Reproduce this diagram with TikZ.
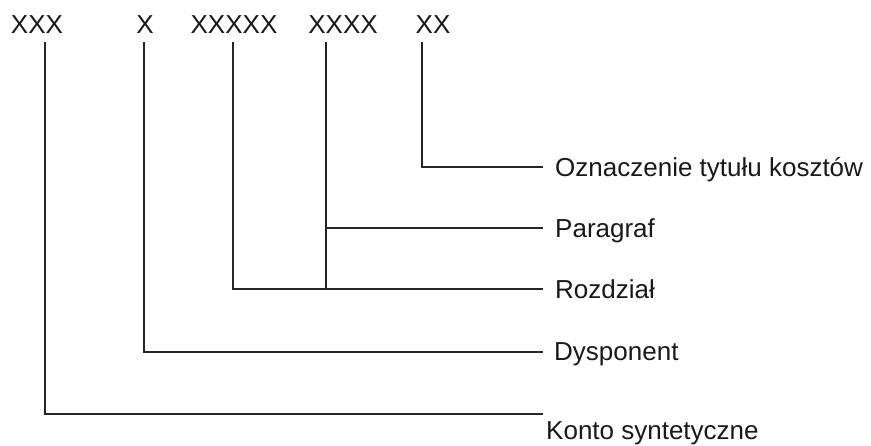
\documentclass[tikz,border=0pt]{standalone}
\usepackage{fontspec}
\setmainfont{Liberation Sans}
\begin{document}
\begin{tikzpicture}[x=1pt,y=1pt,
  lbl/.style={inner sep=0pt,font=\fontsize{26}{30}\selectfont,text=black!90},
  conn/.style={line width=1.4pt,draw=black!85}]
\useasboundingbox (0,0) rectangle (871,-446);
% top codes
\node[lbl] (a1) at (37,-25) {XXX};
\node[lbl] (a2) at (145,-25) {X};
\node[lbl] (a3) at (234,-25) {XXXXX};
\node[lbl] (a4) at (343,-25) {XXXX};
\node[lbl] (a5) at (433,-25) {XX};
% right labels
\node[lbl,anchor=base west] (b5) at (555,-177) {Oznaczenie tytułu kosztów};
\node[lbl,anchor=base west] (b4) at (555,-238) {Paragraf};
\node[lbl,anchor=base west] (b3) at (555,-299) {Rozdział};
\node[lbl,anchor=base west] (b2) at (554,-361) {Dysponent};
\node[lbl,anchor=base west] (b1) at (546,-440) {Konto syntetyczne};
% line tops
\coordinate (t1) at (45,-42);
\coordinate (t2) at (144,-42);
\coordinate (t3) at (233,-42);
\coordinate (t4) at (326,-42);
\coordinate (t5) at (422,-42);
% line ends
\coordinate (e5) at (543,-167);
\coordinate (e4) at (543,-228);
\coordinate (e3) at (543,-289);
\coordinate (e2) at (543,-352);
\coordinate (e1) at (543,-414);
\draw[conn] (t5) |- (e5);
\draw[conn] (t4) |- (e3);
\draw[conn] (t4 |- e4) -- (e4);
\draw[conn] (t3) |- (e3);
\draw[conn] (t2) |- (e2);
\draw[conn] (t1) |- (e1);
\end{tikzpicture}
\end{document}
